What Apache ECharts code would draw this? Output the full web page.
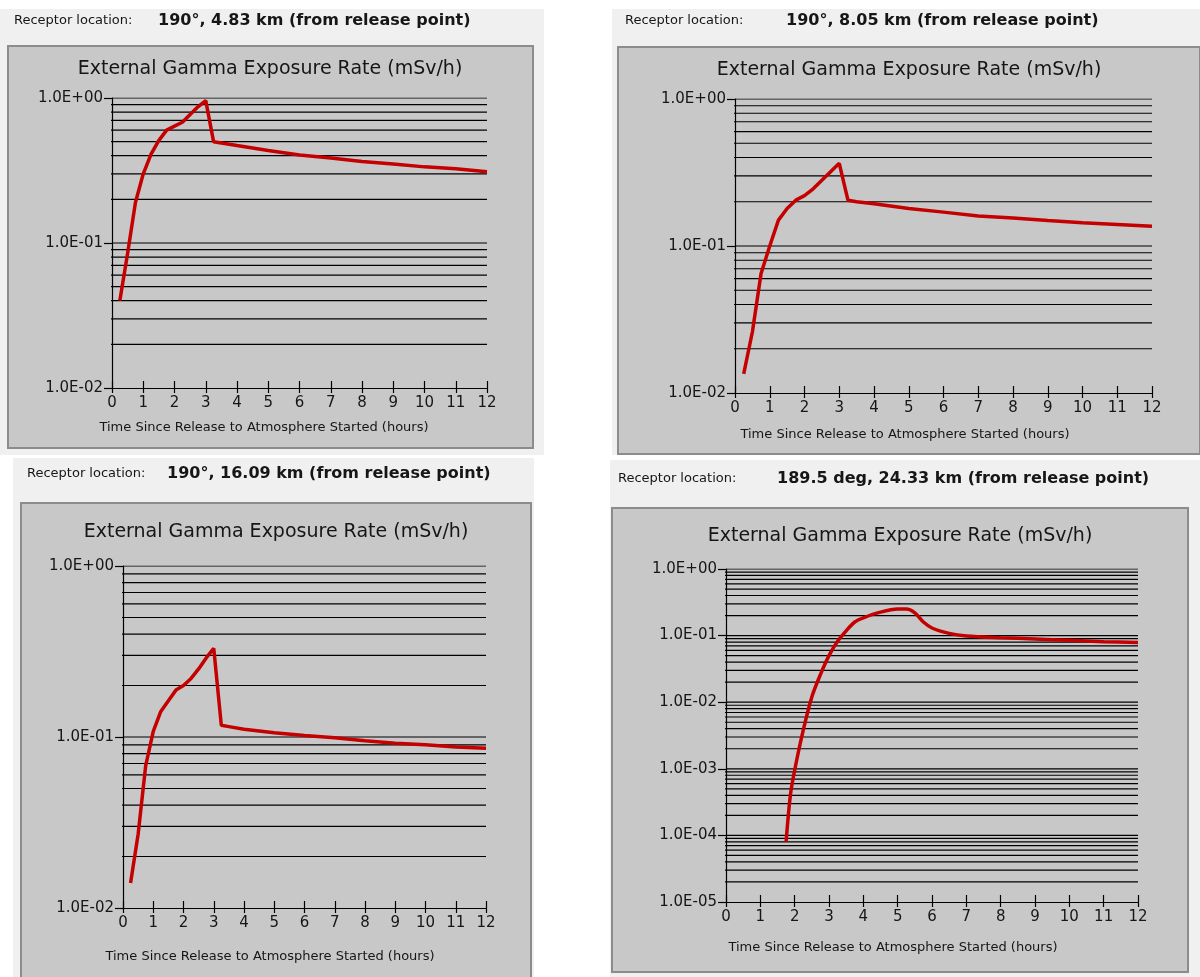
<!DOCTYPE html>
<html>
<head>
<meta charset="utf-8">
<title>External Gamma Exposure Rate</title>
<script src="https://cdn.jsdelivr.net/npm/echarts@6/dist/echarts.min.js"></script>
<style>
  html, body { margin: 0; padding: 0; background: #fff; }
  #chart { width: 1200px; height: 977px; }
</style>
</head>
<body>
<div id="chart"></div>
<script>
// hours since release (panels 1-3 share the same sample times)
const hours = [0.25, 0.5, 0.75, 1, 1.25, 1.5, 1.75, 2, 2.25, 2.5, 2.75, 3, 3.25, 3.5, 4, 5, 6, 7, 8, 9, 10, 11, 12]
// exposure rate, mSv/h
const rate483 = [0.04, 0.085, 0.19, 0.30, 0.41, 0.51, 0.60, 0.64, 0.68, 0.77, 0.87, 0.96, 0.50, 0.49, 0.47, 0.435, 0.405, 0.385, 0.365, 0.35, 0.335, 0.325, 0.31]
const rate805 = [0.0135, 0.026, 0.065, 0.10, 0.15, 0.18, 0.205, 0.22, 0.245, 0.28, 0.32, 0.365, 0.205, 0.20, 0.194, 0.18, 0.17, 0.16, 0.155, 0.149, 0.144, 0.14, 0.136]
const rate1609 = [0.014, 0.027, 0.068, 0.108, 0.141, 0.163, 0.188, 0.20, 0.22, 0.25, 0.29, 0.33, 0.117, 0.115, 0.111, 0.106, 0.102, 0.099, 0.095, 0.092, 0.09, 0.0875, 0.086]
const hours4 = [1.75, 1.875, 2, 2.25, 2.5, 2.75, 3, 3.25, 3.5, 3.75, 4, 4.5, 5, 5.25, 5.5, 5.75, 6, 6.5, 7, 8, 9, 10, 11, 12]
const rate2433 = [8.0e-5, 4.0e-4, 9.5e-4, 3.8e-3, 0.012, 0.026, 0.05, 0.082, 0.118, 0.16, 0.185, 0.225, 0.25, 0.25, 0.22, 0.16, 0.13, 0.108, 0.099, 0.093, 0.089, 0.085, 0.081, 0.079]

const receptors = ['190°, 4.83 km (from release point)', '190°, 8.05 km (from release point)', '190°, 16.09 km (from release point)', '189.5 deg, 24.33 km (from release point)']
const xLabels = ['0', '1', '2', '3', '4', '5', '6', '7', '8', '9', '10', '11', '12']
const yLabels = ['1.0E-02', '1.0E-01', '1.0E+00']
const yLabels4 = ['1.0E-05', '1.0E-04', '1.0E-03', '1.0E-02', '1.0E-01', '1.0E+00']

const chartTitle = 'External Gamma Exposure Rate (mSv/h)'
const xTitle = 'Time Since Release to Atmosphere Started (hours)'

// layout of the four panels (pixels)
const panels = [
  { bg: [0, 9, 544, 446], box: [8, 46, 525, 402], head: [14, 158, 21], title: [270, 69], xt: [264, 428], grid: [112, 98, 375, 290] },
  { bg: [612, 9, 588, 446], box: [618, 47, 582, 407], head: [625, 786, 21], title: [909, 70], xt: [905, 435], grid: [735, 99, 417, 294] },
  { bg: [13, 458, 521, 519], box: [21, 503, 510, 480], head: [27, 167, 474], title: [276, 532], xt: [270, 957], grid: [123, 566, 363, 342] },
  { bg: [610, 460, 590, 517], box: [612, 508, 576, 464], head: [618, 777, 479], title: [900, 536], xt: [893, 948], grid: [726, 569, 412, 333] }
]
const series = [
  { x: hours, y: rate483, labels: yLabels, smooth: false },
  { x: hours, y: rate805, labels: yLabels, smooth: false },
  { x: hours, y: rate1609, labels: yLabels, smooth: false },
  { x: hours4, y: rate2433, labels: yLabels4, smooth: 0.3 }
]

const FONT = 'DejaVu Sans'
const TXT = '#161616'
const MINOR_TICK = 0.1 // hours, drawn left of the y axis

function logValues (minExp, from) {
  const out = []
  for (let d = minExp; d < 0; d++) {
    for (let k = from; k <= 9; k++) out.push(parseFloat((k * Math.pow(10, d)).toPrecision(3)))
  }
  return out
}

const chart = echarts.init(document.getElementById('chart'))
const option = { animation: false, graphic: [], title: [], grid: [], xAxis: [], yAxis: [], series: [] }

panels.forEach((p, i) => {
  const s = series[i]
  const minExp = -(s.labels.length - 1)
  const yMin = Math.pow(10, minExp)
  const gridLines = logValues(minExp, 1).filter(v => v > yMin).concat([1])
  const minor = logValues(minExp, 2)

  option.graphic.push(
    { type: 'rect', z: -10, silent: true, shape: { x: p.bg[0], y: p.bg[1], width: p.bg[2], height: p.bg[3] }, style: { fill: '#f0f0f0' } },
    { type: 'rect', z: -9, silent: true, shape: { x: p.box[0], y: p.box[1], width: p.box[2], height: p.box[3] }, style: { fill: '#c8c8c8', stroke: '#8c8c8c', lineWidth: 2 } }
  )
  option.title.push(
    { text: 'Receptor location:', left: p.head[0], top: p.head[2], padding: 0, textAlign: 'left', textVerticalAlign: 'middle', textStyle: { fontFamily: FONT, fontSize: 13, fontWeight: 'normal', color: TXT } },
    { text: receptors[i], left: p.head[1], top: p.head[2], padding: 0, textAlign: 'left', textVerticalAlign: 'middle', textStyle: { fontFamily: FONT, fontSize: 16, fontWeight: 'bold', color: TXT } },
    { text: chartTitle, left: p.title[0], top: p.title[1], padding: 0, textAlign: 'center', textVerticalAlign: 'middle', textStyle: { fontFamily: FONT, fontSize: 19, fontWeight: 'normal', color: TXT } },
    { text: xTitle, left: p.xt[0], top: p.xt[1], padding: 0, textAlign: 'center', textVerticalAlign: 'middle', textStyle: { fontFamily: FONT, fontSize: 13, fontWeight: 'normal', color: TXT } }
  )

  const g = { left: p.grid[0], top: p.grid[1], width: p.grid[2], height: p.grid[3] }
  option.grid.push(Object.assign({}, g), Object.assign({}, g))
  const gi = 2 * i

  // main axes
  option.xAxis.push({
    gridIndex: gi, type: 'value', min: 0, max: 12, interval: 1,
    axisLine: { lineStyle: { color: '#000', width: 1.2 } },
    axisTick: { length: 5, lineStyle: { color: '#000', width: 1.2 } },
    axisLabel: { margin: 8, color: TXT, fontFamily: FONT, fontSize: 15, formatter: v => xLabels[Math.round(v)] },
    splitLine: { show: false }
  })
  option.yAxis.push({
    gridIndex: gi, type: 'log', logBase: 10, min: yMin, max: 1, splitNumber: s.labels.length - 1,
    axisLine: { show: true, lineStyle: { color: '#000', width: 1.2 } },
    axisTick: { show: true, length: 8, lineStyle: { color: '#000', width: 1.2 } },
    axisLabel: { margin: 9, color: TXT, fontFamily: FONT, fontSize: 15, formatter: v => s.labels[Math.round(Math.log10(v)) - minExp] },
    splitLine: { show: false }
  })
  // overlay axes, only for the inward half of the x ticks
  option.xAxis.push({
    gridIndex: gi + 1, type: 'value', min: 0, max: 12, interval: 1,
    axisLine: { show: false },
    axisTick: { inside: true, length: 7, lineStyle: { color: '#000', width: 1.2 } },
    axisLabel: { show: false },
    splitLine: { show: false }
  })
  option.yAxis.push({
    gridIndex: gi + 1, type: 'log', logBase: 10, min: yMin, max: 1,
    axisLine: { show: false }, axisTick: { show: false }, axisLabel: { show: false }, splitLine: { show: false }
  })

  // horizontal grid lines at every 1..9 x 10^n, one broken polyline
  const gridData = []
  gridLines.forEach(v => { gridData.push([0, v], [12, v], [12, '-']) })
  option.series.push({
    type: 'line', xAxisIndex: gi, yAxisIndex: gi, z: 1, silent: true,
    data: gridData, showSymbol: false, connectNulls: false,
    lineStyle: { color: '#000', width: 1.2 },
    emphasis: { disabled: true }
  })
  // short minor ticks left of the y axis
  const tickData = []
  minor.forEach(v => { tickData.push([-MINOR_TICK, v], [0, v], [0, '-']) })
  option.series.push({
    type: 'line', xAxisIndex: gi, yAxisIndex: gi, z: 1, silent: true, clip: false,
    data: tickData, showSymbol: false, connectNulls: false,
    lineStyle: { color: '#000', width: 1.2 },
    emphasis: { disabled: true }
  })

  option.series.push({
    type: 'line', xAxisIndex: gi, yAxisIndex: gi, z: 3,
    data: s.x.map((t, j) => [t, s.y[j]]),
    showSymbol: false, smooth: s.smooth,
    lineStyle: { color: '#c40000', width: 3.5 },
    itemStyle: { color: '#c40000' }
  })
})

chart.setOption(option)
</script>
</body>
</html>
